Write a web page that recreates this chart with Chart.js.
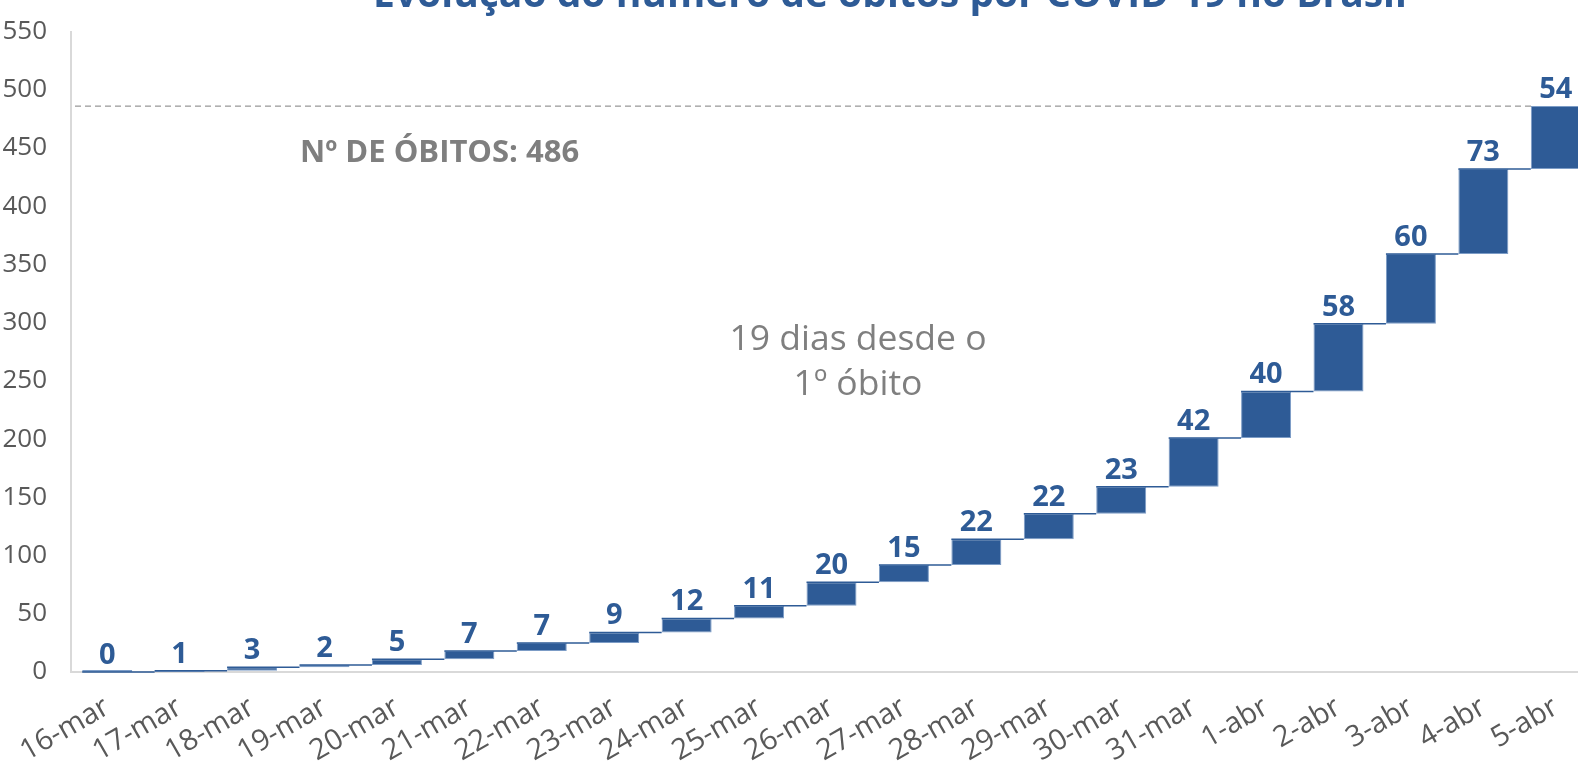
<!DOCTYPE html>
<html lang="pt">
<head>
<meta charset="UTF-8">
<title>Evolução do número de óbitos por COVID-19 no Brasil</title>
<script src="https://cdn.jsdelivr.net/npm/chart.js@4"></script>
<style>
    html, body { margin: 0; padding: 0; overflow: hidden; background: #fff; }
    .grafico { position: absolute; left: 0; top: 0; width: 1592px; height: 770px; }
</style>
</head>
<body>
<div class="grafico"><canvas id="obitos"></canvas></div>
<script>
    // Dados: óbitos novos por dia
    const dias = ['16-mar', '17-mar', '18-mar', '19-mar', '20-mar', '21-mar', '22-mar', '23-mar',
        '24-mar', '25-mar', '26-mar', '27-mar', '28-mar', '29-mar', '30-mar', '31-mar',
        '1-abr', '2-abr', '3-abr', '4-abr', '5-abr'];
    const novosObitos = [0, 1, 3, 2, 5, 7, 7, 9, 12, 11, 20, 15, 22, 22, 23, 42, 40, 58, 60, 73, 54];
    const totalObitos = 486;
    const eixoY = { min: 0, max: 550, passo: 50 };

    const azul = '#2E5B96';
    const cinza = '#7F7F7F';
    const fonte = "'Open Sans', 'Noto Sans', sans-serif";

    // barras flutuantes (cascata): [acumulado anterior, acumulado atual]
    const faixas = [];
    let soma = 0;
    novosObitos.forEach(v => { faixas.push([soma, soma + v]); soma += v; });

    const anotacoes = {
        id: 'anotacoes',
        afterDatasetsDraw(chart) {
            const { ctx, chartArea, scales: { y } } = chart;
            const barras = chart.getDatasetMeta(0).data;
            ctx.save();

            // conectores entre as barras
            ctx.strokeStyle = azul;
            ctx.lineWidth = 1.5;
            for (let i = 0; i < barras.length - 1; i++) {
                const py = y.getPixelForValue(faixas[i][1]);
                ctx.beginPath();
                ctx.moveTo(barras[i].x - barras[i].width / 2, py);
                ctx.lineTo(barras[i + 1].x - barras[i + 1].width / 2, py);
                ctx.stroke();
            }

            // linha tracejada do total
            const ultima = barras[barras.length - 1];
            const pt = y.getPixelForValue(totalObitos);
            ctx.strokeStyle = cinza;
            ctx.lineWidth = 1;
            ctx.setLineDash([6, 4]);
            ctx.beginPath();
            ctx.moveTo(chartArea.left + 4, pt);
            ctx.lineTo(ultima.x - ultima.width / 2 + 4, pt);
            ctx.stroke();
            ctx.setLineDash([]);

            // valores sobre as barras
            ctx.fillStyle = azul;
            ctx.font = 'bold 29px ' + fonte;
            ctx.textAlign = 'center';
            ctx.textBaseline = 'alphabetic';
            barras.forEach((b, i) => {
                ctx.fillText(novosObitos[i], b.x, y.getPixelForValue(faixas[i][1]) - 8);
            });

            // textos
            ctx.fillStyle = cinza;
            ctx.font = 'bold 31px ' + fonte;
            ctx.textAlign = 'left';
            ctx.fillText('Nº DE ÓBITOS: ' + totalObitos, 300, 162);

            ctx.font = '35.5px ' + fonte;
            ctx.textAlign = 'center';
            ctx.fillText('19 dias desde o', 858, 350);
            ctx.fillText('1º óbito', 858, 395);

            // título (cortado no topo, como no original)
            ctx.fillStyle = azul;
            ctx.font = 'bold 39px ' + fonte;
            ctx.fillText('Evolução do número de óbitos por COVID-19 no Brasil', 890, 7);
            ctx.restore();
        }
    };

    new Chart(document.getElementById('obitos'), {
        type: 'bar',
        data: {
            labels: dias,
            datasets: [{
                label: 'Óbitos novos',
                data: faixas,
                backgroundColor: azul,
                borderColor: '#7C9CC6',
                borderWidth: 1,
                borderSkipped: false,
                minBarLength: 2,
                barPercentage: 0.69,
                categoryPercentage: 1
            }]
        },
        options: {
            responsive: true,
            maintainAspectRatio: false,
            animation: false,
            layout: { padding: { top: 30, left: 0, right: 0, bottom: 0 } },
            plugins: {
                legend: { display: false },
                tooltip: { enabled: false }
            },
            scales: {
                x: {
                    grid: { display: false },
                    border: { color: '#D9D9D9', width: 2 },
                    ticks: {
                        color: '#595959',
                        font: { family: fonte, size: 29 },
                        autoSkip: false,
                        minRotation: 30,
                        maxRotation: 30,
                        padding: 10
                    },
                    afterFit(scale) { scale.height = 98; }
                },
                y: {
                    min: eixoY.min,
                    max: eixoY.max,
                    grid: { display: false },
                    border: { color: '#D9D9D9', width: 2 },
                    ticks: {
                        stepSize: eixoY.passo,
                        color: '#595959',
                        font: { family: fonte, size: 26 },
                        padding: 16
                    },
                    afterFit(scale) { scale.width = 71; }
                }
            }
        },
        plugins: [anotacoes]
    });
</script>
</body>
</html>
